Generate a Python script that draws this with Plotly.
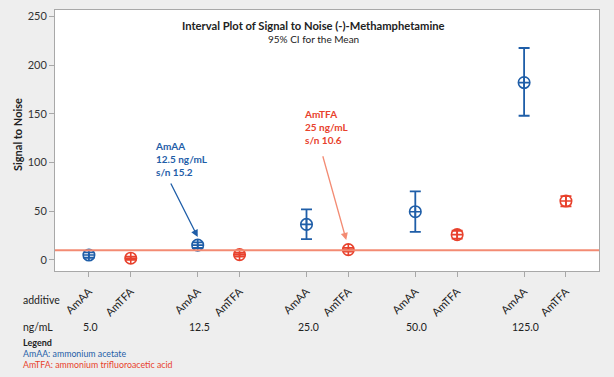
import plotly.graph_objects as go

# ---- data ----
concentrations = ["5.0", "12.5", "25.0", "50.0", "125.0"]
additives = ["AmAA", "AmTFA"]
amaa_mean = [5.1, 15.2, 36.5, 49.5, 182.0]
amaa_lo = [2.3, 12.3, 21.5, 28.9, 148.0]
amaa_hi = [7.9, 18.1, 52.0, 70.4, 217.5]
amtfa_mean = [1.8, 5.5, 10.6, 26.0, 60.5]
amtfa_lo = [0.2, 3.6, 8.7, 22.0, 55.0]
amtfa_hi = [3.4, 7.4, 12.5, 30.0, 65.5]
ref_line = 10
y_ticks = [0, 50, 100, 150, 200, 250]

FONT = "Lato, Roboto, sans-serif"
BLUE = "#1f5ea8"
RED = "#e8412c"
LINE_RED = "#f38b73"

GROUP_STEP = 2.6
pos_amaa = [g * GROUP_STEP for g in range(len(concentrations))]
pos_amtfa = [g * GROUP_STEP + 1 for g in range(len(concentrations))]

fig = go.Figure()

def add_series(xs, mean, lo, hi, color, name):
    fig.add_trace(go.Scatter(
        x=xs, y=mean, mode="markers", name=name,
        marker=dict(symbol="circle-cross-open", size=11.5, color=color,
                    line=dict(width=1.6, color=color)),
        error_y=dict(type="data", symmetric=False,
                     array=[h - m for h, m in zip(hi, mean)],
                     arrayminus=[m - l for m, l in zip(mean, lo)],
                     color=color, thickness=1.8, width=5.5),
        showlegend=False, cliponaxis=False,
    ))

add_series(pos_amaa, amaa_mean, amaa_lo, amaa_hi, BLUE, "AmAA")
add_series(pos_amtfa, amtfa_mean, amtfa_lo, amtfa_hi, RED, "AmTFA")

fig.add_shape(type="line", xref="paper", x0=0, x1=1, yref="y",
              y0=ref_line, y1=ref_line, line=dict(color=LINE_RED, width=2))

tickvals = []
ticktext = []
for a, t in zip(pos_amaa, pos_amtfa):
    tickvals += [a, t]
    ticktext += additives

W, H = 614, 377
L, R, T, B = 55, 15, 10, 106
pw, ph = W - L - R, H - T - B

def px_x(x):
    return (x - L) / pw

def px_y(y):
    return (H - B - y) / ph

TXT = "#222"
ann = []
# title
ann.append(dict(text="<b>Interval Plot of Signal to Noise (-)-Methamphetamine</b>",
                x=px_x(313), y=px_y(26), xref="paper", yref="paper",
                showarrow=False, font=dict(size=11.2, color=TXT),
                xanchor="center", yanchor="middle"))
ann.append(dict(text="95% CI for the Mean", x=px_x(313), y=px_y(38.5),
                xref="paper", yref="paper", showarrow=False,
                font=dict(size=10, color=TXT), xanchor="center", yanchor="middle"))
# y title
ann.append(dict(text="<b>Signal to Noise</b>", x=px_x(17), y=px_y(135),
                xref="paper", yref="paper", showarrow=False, textangle=-90,
                font=dict(size=11, color=TXT), xanchor="center", yanchor="middle"))
# row labels
ann.append(dict(text="additive", x=px_x(21), y=px_y(300), xref="paper", yref="paper",
                showarrow=False, font=dict(size=10.5, color=TXT),
                xanchor="left", yanchor="middle"))
ann.append(dict(text="ng/mL", x=px_x(21), y=px_y(327), xref="paper", yref="paper",
                showarrow=False, font=dict(size=10.5, color=TXT),
                xanchor="left", yanchor="middle"))
for xpos, c in zip(pos_amaa, concentrations):
    ann.append(dict(text=c, x=xpos + 0.04, y=px_y(327), xref="x", yref="paper",
                    showarrow=False, font=dict(size=10.5, color=TXT),
                    xanchor="center", yanchor="middle"))
# legend block
ann.append(dict(text="<b>Legend</b>", x=px_x(21), y=px_y(342.5), xref="paper", yref="paper",
                showarrow=False, font=dict(size=9, color=TXT),
                xanchor="left", yanchor="middle"))
ann.append(dict(text="AmAA: ammonium acetate", x=px_x(21), y=px_y(353.5), xref="paper",
                yref="paper", showarrow=False, font=dict(size=8.8, color=BLUE),
                xanchor="left", yanchor="middle"))
ann.append(dict(text="AmTFA: ammonium trifluoroacetic acid", x=px_x(21), y=px_y(364.5),
                xref="paper", yref="paper", showarrow=False, font=dict(size=8.8, color=RED),
                xanchor="left", yanchor="middle"))

# callouts
ann.append(dict(text="<b>AmAA<br>12.5 ng/mL<br>s/n 15.2</b>", x=1.52, y=125,
                xref="x", yref="y", showarrow=False, align="left",
                font=dict(size=10, color=BLUE), xanchor="left", yanchor="top"))
ann.append(dict(text="", x=pos_amaa[1], y=amaa_hi[1] + 5.5, ax=pos_amaa[1] - 0.66, ay=80,
                xref="x", yref="y", axref="x", ayref="y", showarrow=True,
                arrowhead=2, arrowsize=1.1, arrowwidth=1.3, arrowcolor=BLUE, standoff=0))
ann.append(dict(text="<b>AmTFA<br>25 ng/mL<br>s/n 10.6</b>", x=5.1, y=158,
                xref="x", yref="y", showarrow=False, align="left",
                font=dict(size=10, color=RED), xanchor="left", yanchor="top"))
ann.append(dict(text="", x=pos_amtfa[2] - 0.05, y=amtfa_hi[2] + 8, ax=pos_amtfa[2] - 0.62, ay=108,
                xref="x", yref="y", axref="x", ayref="y", showarrow=True,
                arrowhead=2, arrowsize=1.1, arrowwidth=1.3, arrowcolor=LINE_RED, standoff=0))

fig.update_layout(
    width=W, height=H,
    margin=dict(l=L, r=R, t=T, b=B),
    paper_bgcolor="#eeeeee", plot_bgcolor="white",
    font=dict(family=FONT, color=TXT),
    annotations=ann,
    xaxis=dict(range=[-0.81, 4 * GROUP_STEP + 1 + 0.79], tickvals=tickvals, ticktext=ticktext,
               tickangle=-45, ticks="outside", ticklen=5, tickcolor="#a8a8a8",
               showgrid=False, zeroline=False, showline=True, linecolor="#a8a8a8",
               mirror=True, tickfont=dict(size=11, color=TXT), ticklabelstandoff=4,
               automargin=False),
    yaxis=dict(range=[-11.3, 256.5], tickvals=y_ticks, ticks="outside", ticklen=5,
               tickcolor="#a8a8a8", showgrid=False, zeroline=False, showline=True,
               linecolor="#a8a8a8", mirror=True, tickfont=dict(size=11, color="#333"),
               automargin=False),
)

fig.write_html("out.html", config={"displayModeBar": False},
               post_script="document.body.style.margin='0';document.body.style.background='#eeeeee';")
